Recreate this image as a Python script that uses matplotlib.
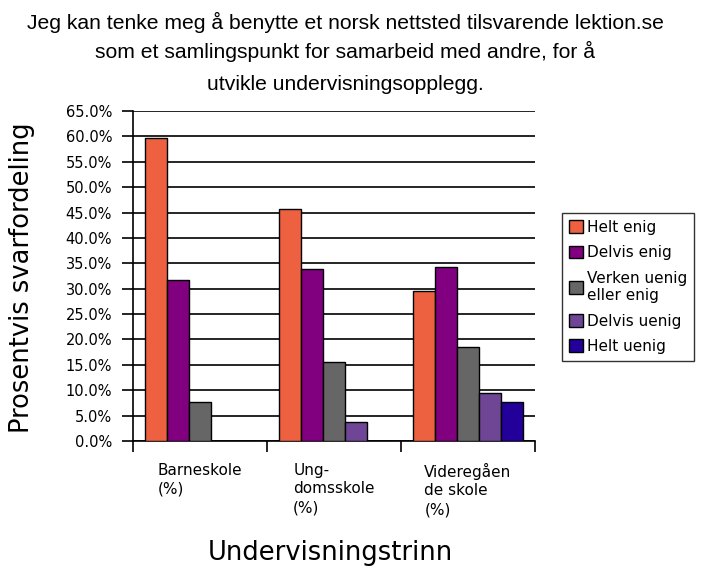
import numpy as np
import matplotlib.pyplot as plt
from matplotlib.ticker import FuncFormatter

categories = ['Barneskole\n(%)', 'Ung-\ndomsskole\n(%)', 'Videregåen\nde skole\n(%)']
series = ['Helt enig', 'Delvis enig', 'Verken uenig\neller enig', 'Delvis uenig', 'Helt uenig']
helt_enig = [59.7, 45.6, 29.6]
delvis_enig = [31.8, 33.8, 34.2]
verken = [7.7, 15.6, 18.5]
delvis_uenig = [0.0, 3.8, 9.5]
helt_uenig = [0.0, 0.0, 7.7]
values = [helt_enig, delvis_enig, verken, delvis_uenig, helt_uenig]
colors = ['#ee6140', '#800080', '#666666', '#6f4596', '#230099']

title_lines = ['Jeg kan tenke meg å benytte et norsk nettsted tilsvarende lektion.se',
               'som et samlingspunkt for samarbeid med andre, for å',
               'utvikle undervisningsopplegg.']

fig = plt.figure(figsize=(7.1, 5.67), dpi=100)
ax = fig.add_axes([133/710, 1-441/567, (535-133)/710, (441-111)/567])

x = np.arange(len(categories))
w = 0.163
for i, (vals, c, lab) in enumerate(zip(values, colors, series)):
    ax.bar(x + (i - 2) * w, vals, w, color=c, edgecolor='black', linewidth=1.0,
           label=lab, zorder=3)

ax.set_xlim(-0.5, 2.5)
ax.set_ylim(0, 65)
ax.set_yticks(np.arange(0, 66, 5))
ax.yaxis.set_major_formatter(FuncFormatter(lambda v, p: '%.1f%%' % v))
ax.grid(axis='y', color='black', linewidth=1.2, zorder=0)
for s in ['top', 'right']:
    ax.spines[s].set_visible(False)
ax.spines['left'].set_linewidth(1.2)
ax.spines['bottom'].set_linewidth(1.2)
ax.tick_params(axis='y', length=8, width=1.2, labelsize=10.5, pad=7)

ax.set_xticks([-0.5, 0.5, 1.5, 2.5])
ax.set_xticklabels([])
ax.tick_params(axis='x', length=8, width=1.2)
for xi, lab in zip(x, categories):
    ax.text(xi, -4.3, lab, ha='center', va='top', multialignment='left',
            fontsize=11, linespacing=1.3)

fig.text(22/710, 1-278/567, 'Prosentvis svarfordeling', rotation=90,
         ha='center', va='center', fontsize=18.5)
fig.text(330/710, 1-553/567, 'Undervisningstrinn', ha='center', va='center', fontsize=18.5)

for ty, line in zip([22, 51, 84], title_lines):
    fig.text(345/710, 1-ty/567, line, ha='center', va='center', fontsize=15.2,
             family='Liberation Sans')

leg = fig.legend(loc='center left', bbox_to_anchor=(562/710, 1-287/567),
                 fontsize=11, frameon=True, fancybox=False, edgecolor='black',
                 handlelength=0.9, handleheight=0.9, handletextpad=0.3,
                 labelspacing=0.68, borderpad=0.45, borderaxespad=0)
leg.get_frame().set_linewidth(1.0)

fig.savefig('out.png', dpi=100)
